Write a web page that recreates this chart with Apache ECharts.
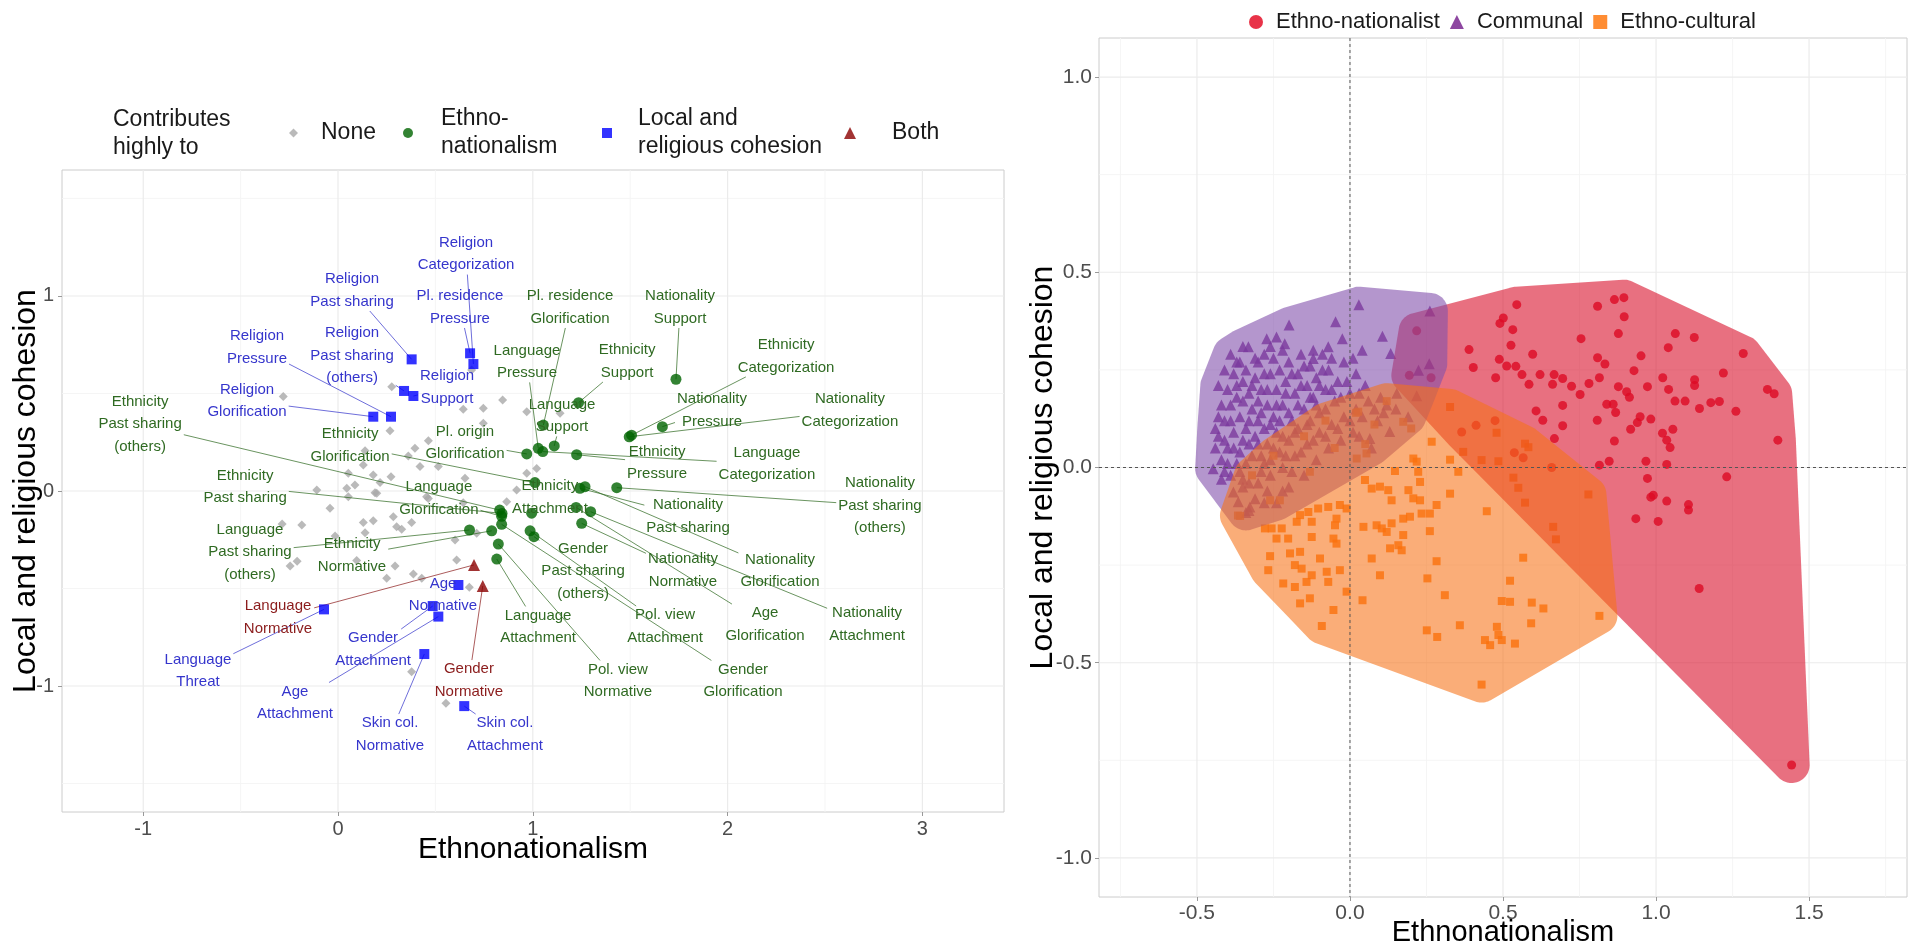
<!DOCTYPE html>
<html><head><meta charset="utf-8">
<script src="https://cdn.jsdelivr.net/npm/echarts@6/dist/echarts.min.js"></script>
<style>html,body{margin:0;padding:0;background:#fff}#c{width:1923px;height:948px}</style>
</head><body><div id="c"></div>
<script>
// ---------------- LEFT PANEL DATA ----------------
const leftXTicks = [-1, 0, 1, 2, 3];
const leftXMinor = [-0.5, 0.5, 1.5, 2.5];
const leftYTicks = [-1, 0, 1];
const leftYMinor = [-1.5, -0.5, 0.5, 1.5];

const nonePts = [[-0.281,0.484],[0.276,0.535],[0.845,0.467],[0.643,0.419],[0.746,0.424],[0.267,0.309],[0.464,0.258],[0.395,0.219],[0.361,0.179],[0.746,0.347],[0.139,0.207],[0.130,0.133],[0.421,0.125],[0.515,0.125],[0.969,0.091],[1.020,0.116],[0.053,0.091],[0.181,0.082],[0.272,0.073],[0.652,0.065],[0.216,0.043],[0.087,0.031],[0.045,0.014],[0.917,0.005],[-0.109,0.005],[0.190,-0.009],[0.455,-0.029],[0.053,-0.029],[0.866,-0.055],[0.643,-0.060],[-0.041,-0.089],[0.686,0.621],[0.969,0.407],[1.140,0.399],[0.199,-0.012],[-0.186,-0.174],[0.130,-0.162],[0.181,-0.152],[0.139,-0.214],[0.284,-0.132],[0.301,-0.183],[0.327,-0.196],[0.378,-0.162],[0.464,-0.038],[-0.015,-0.231],[0.601,-0.251],[0.712,-0.217],[-0.246,-0.385],[0.096,-0.357],[0.609,-0.354],[0.293,-0.385],[0.250,-0.448],[0.387,-0.426],[0.430,-0.448],[0.674,-0.494],[0.378,-0.927],[0.554,-1.089],[-0.287,-0.169],[-0.210,-0.360]];

const ethnoNames = ['Nationality\nSupport','Ethnicity\nCategorization','Nationality\nCategorization','Nationality\nPressure','Ethnicity\nPressure','Language\nCategorization','Ethnicity\nSupport','Pl. residence\nGlorification','Language\nPressure','Language\nSupport','Pl. origin\nGlorification','Nationality\nPast sharing\n(others)','Nationality\nPast sharing','Nationality\nGlorification','Age\nGlorification','Nationality\nAttachment','Nationality\nNormative','Gender\nGlorification','Pol. view\nNormative','Pol. view\nAttachment','Gender\nPast sharing\n(others)','Language\nAttachment','Ethnicity\nAttachment','Ethnicity\nGlorification','Ethnicity\nPast sharing\n(others)','Ethnicity\nPast sharing','Language\nGlorification','Language\nPast sharing\n(others)','Ethnicity\nNormative'];
const ethnoPts = [[1.735,0.573],[1.507,0.286],[1.495,0.278],[1.665,0.330],[1.225,0.186],[1.051,0.202],[1.235,0.453],[1.054,0.338],[1.028,0.219],[1.110,0.231],[0.969,0.190],[1.431,0.017],[1.242,0.014],[1.268,0.022],[1.222,-0.084],[1.297,-0.106],[1.251,-0.166],[0.840,-0.171],[0.823,-0.272],[0.986,-0.204],[1.006,-0.234],[0.815,-0.349],[0.994,-0.114],[1.011,0.043],[0.830,-0.098],[0.842,-0.115],[0.840,-0.130],[0.675,-0.200],[0.789,-0.204]];
const ethnoLabelPos = [[1.756,0.941],[2.300,0.690],[2.628,0.413],[1.920,0.413],[1.638,0.144],[2.202,0.138],[1.484,0.664],[1.191,0.941],[0.970,0.662],[1.150,0.385],[0.652,0.246],[2.782,-0.075],[1.797,-0.131],[2.269,-0.410],[2.192,-0.685],[2.716,-0.685],[1.771,-0.408],[2.079,-0.974],[1.437,-0.974],[1.679,-0.695],[1.258,-0.410],[1.027,-0.697],[1.088,-0.033],[0.062,0.233],[-1.016,0.342],[-0.477,0.021],[0.518,-0.038],[-0.452,-0.313],[0.072,-0.331]];

const localNames = ['Religion\nCategorization','Pl. residence\nPressure','Religion\nPast sharing','Religion\nPressure','Religion\nPast sharing\n(others)','Religion\nSupport','Religion\nGlorification','Age\nNormative','Gender\nAttachment','Language\nThreat','Age\nAttachment','Skin col.\nNormative','Skin col.\nAttachment'];
const localPts = [[0.695,0.651],[0.678,0.706],[0.378,0.675],[0.272,0.381],[0.339,0.513],[0.387,0.487],[0.181,0.381],[0.618,-0.482],[0.486,-0.590],[-0.072,-0.607],[0.515,-0.644],[0.443,-0.836],[0.648,-1.103]];
const localLabelPos = [[0.657,1.215],[0.626,0.941],[0.072,1.028],[-0.416,0.736],[0.072,0.694],[0.560,0.531],[-0.467,0.462],[0.539,-0.533],[0.180,-0.813],[-0.719,-0.923],[-0.221,-1.087],[0.267,-1.249],[0.857,-1.249]];

const bothNames = ['Language\nNormative','Gender\nNormative'];
const bothPts = [[0.698,-0.379],[0.743,-0.487]];
const bothLabelPos = [[-0.308,-0.649],[0.672,-0.972]];

// ---------------- RIGHT PANEL DATA ----------------
const rightXTicks = [-0.5, 0, 0.5, 1, 1.5];
const rightXMinor = [-0.75, -0.25, 0.25, 0.75, 1.25, 1.75];
const rightYTicks = [-1, -0.5, 0, 0.5, 1];
const rightYMinor = [-0.75, -0.25, 0.25, 0.75];

const ethnoNationalist = [[0.545,0.417],[0.809,0.413],[0.864,0.430],[0.895,0.435],[0.896,0.386],[0.877,0.343],[0.755,0.330],[0.501,0.383],[0.490,0.369],[0.532,0.353],[0.526,0.313],[0.389,0.302],[0.403,0.256],[0.488,0.277],[0.512,0.260],[0.542,0.259],[0.562,0.238],[0.597,0.290],[0.476,0.230],[0.621,0.238],[0.585,0.213],[0.667,0.238],[0.695,0.228],[0.662,0.213],[0.724,0.208],[0.752,0.187],[0.781,0.215],[0.815,0.230],[0.809,0.281],[0.833,0.265],[0.928,0.248],[0.951,0.286],[1.040,0.307],[1.063,0.343],[1.125,0.333],[1.285,0.292],[1.220,0.242],[1.126,0.225],[1.126,0.210],[1.022,0.230],[1.041,0.200],[0.972,0.207],[0.877,0.207],[0.904,0.194],[0.913,0.180],[0.839,0.162],[0.860,0.162],[0.868,0.141],[0.948,0.130],[0.939,0.115],[0.983,0.124],[0.917,0.098],[1.062,0.170],[1.095,0.170],[1.142,0.151],[1.179,0.166],[1.207,0.169],[1.261,0.144],[1.364,0.200],[1.386,0.189],[1.398,0.070],[1.021,0.088],[1.035,0.070],[1.046,0.051],[1.055,0.098],[0.864,0.068],[0.808,0.121],[0.695,0.159],[0.695,0.107],[0.608,0.145],[0.630,0.121],[0.668,0.074],[0.815,0.006],[0.847,0.016],[0.967,0.016],[1.035,0.008],[0.972,-0.028],[1.231,-0.024],[0.983,-0.076],[0.991,-0.071],[1.035,-0.086],[1.106,-0.095],[1.106,-0.109],[0.934,-0.131],[1.007,-0.138],[1.141,-0.310],[0.659,0.000],[0.265,0.230],[0.218,0.350],[0.194,0.236],[0.365,0.091],[0.412,0.108],[0.474,0.120],[0.537,0.038],[0.566,0.025],[1.443,-0.762]];

const communal = [[0.029,0.417],[0.261,0.401],[-0.047,0.373],[-0.199,0.365],[-0.025,0.330],[0.106,0.336],[0.133,0.292],[0.259,0.266],[0.224,0.249],[-0.272,0.330],[-0.240,0.334],[-0.213,0.317],[-0.332,0.309],[-0.071,0.309],[-0.120,0.279],[0.153,0.190],[0.218,0.184],[0.130,0.092],[0.065,0.074],[0.190,0.130],[-0.447,-0.003],[-0.365,-0.088],[-0.327,-0.101],[-0.381,-0.063],[-0.340,-0.115],
[-0.42,0.02],[-0.40,0.05],[-0.43,0.08],[-0.41,0.12],[-0.39,0.16],[-0.40,0.20],[-0.38,0.24],[-0.36,0.27],[-0.35,0.22],[-0.37,0.18],[-0.36,0.13],[-0.38,0.09],[-0.36,0.04],[-0.34,0.01],[-0.33,0.06],[-0.34,0.10],[-0.32,0.15],[-0.33,0.19],[-0.31,0.23],[-0.30,0.27],[-0.29,0.20],[-0.30,0.12],[-0.31,0.08],[-0.29,0.03],[-0.27,0.06],[-0.28,0.10],[-0.27,0.16],[-0.26,0.24],[-0.25,0.28],[-0.24,0.20],[-0.25,0.13],[-0.24,0.09],[-0.23,0.04],[-0.22,0.16],[-0.21,0.22],[-0.20,0.27],[-0.19,0.12],[-0.20,0.07],[-0.18,0.19],[-0.17,0.24],[-0.16,0.29],[-0.15,0.15],[-0.14,0.21],[-0.13,0.26],[-0.12,0.18],[-0.11,0.23],[-0.10,0.14],[-0.09,0.29],[-0.08,0.20],[-0.07,0.25],[-0.05,0.17],[-0.04,0.22],[-0.02,0.27],[0.00,0.19],[0.02,0.24],[0.04,0.30],[0.05,0.21],[-0.44,0.05],[-0.43,0.13],[-0.41,0.25],[-0.39,0.29],[-0.35,0.31],[-0.28,0.29],[-0.22,0.30],[-0.37,0.01],[-0.42,-0.03],[-0.39,-0.02],[-0.35,-0.03],
[-0.44,0.10],[-0.42,0.16],[-0.43,0.21],[-0.41,0.07],[-0.40,0.01],[-0.38,0.05],[-0.39,0.12],[-0.37,0.21],[-0.37,0.27],[-0.35,0.17],[-0.35,0.07],[-0.34,0.25],[-0.33,0.12],[-0.32,0.03],[-0.32,0.21],[-0.31,0.28],[-0.30,0.17],[-0.30,0.06],[-0.29,0.14],[-0.28,0.24],[-0.28,0.01],[-0.27,0.20],[-0.26,0.11],[-0.26,0.31],[-0.25,0.05],[-0.24,0.16],[-0.23,0.25],[-0.23,0.12],[-0.22,0.08],[-0.21,0.19],[-0.21,0.03],[-0.20,0.14],[-0.19,0.24],[-0.18,0.09],[-0.17,0.16],[-0.16,0.21],[-0.15,0.26],[-0.14,0.11],[-0.13,0.18],[-0.12,0.30],[-0.11,0.16],[-0.10,0.21],[-0.09,0.25],[-0.08,0.15],[-0.06,0.20],[-0.06,0.28],[-0.03,0.18],[-0.01,0.22],[0.01,0.28],[0.03,0.19],
[-0.35,-0.05],[-0.30,-0.04],[-0.26,-0.02],[-0.22,0.00],[-0.18,0.03],[-0.14,0.06],[-0.10,0.09],[-0.06,0.11],[-0.02,0.13],[0.02,0.15],[0.06,0.17],[0.10,0.18],[-0.31,-0.08],[-0.27,-0.06],[-0.20,-0.05],[-0.15,-0.02],[-0.11,0.02],[-0.07,0.05],[-0.03,0.07],[0.01,0.09],[0.09,0.12],[0.12,0.16],[-0.24,-0.09],[0.07,0.05],[-0.17,0.10],[-0.13,0.12],
[-0.41,-0.01],[-0.36,-0.01],[-0.33,-0.04],[-0.29,-0.01],[-0.26,0.02],[-0.19,-0.01],[-0.16,0.04],[-0.12,0.07],[-0.08,0.08],[-0.04,0.10],[0.00,0.12],[0.04,0.13],[0.08,0.15],[-0.28,-0.09],[-0.22,-0.06],[-0.33,-0.11],[0.03,0.08],[0.11,0.14],[0.15,0.15]];

const ethnoCultural = [[0.267,0.066],[0.207,0.023],[0.218,0.015],[0.327,0.020],[0.147,-0.009],[0.223,-0.011],[0.229,-0.037],[0.049,-0.032],[0.071,-0.054],[0.098,-0.049],[0.125,-0.058],[0.191,-0.058],[0.207,-0.079],[0.136,-0.084],[0.229,-0.084],[0.327,-0.067],[0.354,-0.011],[0.283,-0.096],[0.261,-0.118],[0.234,-0.118],[-0.033,-0.096],[-0.011,-0.105],[-0.071,-0.101],[-0.104,-0.105],[-0.136,-0.114],[-0.163,-0.122],[-0.174,-0.139],[-0.125,-0.139],[-0.044,-0.131],[-0.049,-0.148],[0.044,-0.152],[0.087,-0.148],[0.104,-0.156],[0.136,-0.143],[0.174,-0.131],[0.196,-0.126],[0.120,-0.165],[0.174,-0.173],[0.158,-0.199],[0.131,-0.207],[0.169,-0.212],[0.261,-0.163],[-0.256,-0.156],[-0.223,-0.156],[-0.278,-0.156],[-0.240,-0.182],[-0.202,-0.182],[-0.125,-0.178],[-0.054,-0.182],[-0.044,-0.195],[-0.196,-0.220],[-0.163,-0.216],[-0.261,-0.227],[-0.098,-0.233],[-0.180,-0.250],[-0.158,-0.259],[-0.267,-0.263],[-0.218,-0.297],[-0.180,-0.306],[-0.142,-0.293],[-0.125,-0.276],[-0.076,-0.267],[-0.033,-0.263],[-0.071,-0.293],[-0.011,-0.318],[-0.131,-0.335],[-0.163,-0.348],[-0.054,-0.365],[-0.092,-0.406],[0.071,-0.233],[0.098,-0.276],[0.041,-0.340],[0.283,-0.240],[0.253,-0.284],[0.310,-0.327],[0.523,-0.290],[0.566,-0.231],[0.447,-0.112],[0.496,-0.342],[0.523,-0.344],[0.594,-0.346],[0.632,-0.361],[0.592,-0.399],[0.815,-0.380],[0.359,-0.404],[0.251,-0.417],[0.285,-0.434],[0.480,-0.408],[0.485,-0.429],[0.496,-0.442],[0.441,-0.442],[0.458,-0.455],[0.539,-0.451],[0.430,-0.556],[0.370,0.040],[0.430,0.019],[0.485,0.016],[0.534,-0.026],[0.550,-0.052],[0.572,-0.090],[0.779,-0.069],[0.664,-0.152],[0.673,-0.184],[0.572,0.061],[0.583,0.052],[-0.359,-0.124],[-0.261,-0.084],[-0.229,-0.084],[0.054,0.036],[0.022,0.023],[-0.131,-0.011],[-0.366,-0.123],[0.327,0.155],[0.174,0.117],[0.027,0.143],[0.479,0.089],[-0.15,0.08],[-0.08,0.12],[0.02,0.14],[0.08,0.11],[-0.25,0.03],[-0.32,-0.02],[0.12,0.17],[0.20,0.10],[-0.05,0.05],[0.05,0.06]];

// ---------------- STYLE ----------------
const FONT = '"Liberation Sans", Arial, Helvetica, sans-serif';
const LABEL_SIZE = 15, LABEL_LH = 22.5;
const groupColors = { ethno: '#006400', local: '#0000ff', both: '#8b0000', none: '#a9a9a9' };
const textColors = ['#2f6a22', '#3535cc', '#8b1c1c'];
const hullColors = ['rgba(217,17,43,0.6)', 'rgba(130,80,172,0.6)', 'rgba(247,113,22,0.58)'];

const mctx = document.createElement('canvas').getContext('2d');
mctx.font = LABEL_SIZE + 'px "Liberation Sans", Arial, sans-serif';

const labelNames = [].concat(ethnoNames, localNames, bothNames);
const labelData = [].concat(
  ethnoPts.map((p, i) => [p[0], p[1], ethnoLabelPos[i][0], ethnoLabelPos[i][1], 0]),
  localPts.map((p, i) => [p[0], p[1], localLabelPos[i][0], localLabelPos[i][1], 1]),
  bothPts.map((p, i) => [p[0], p[1], bothLabelPos[i][0], bothLabelPos[i][1], 2])
);

function gridData(xt, xm, yt, ym) {
  return [].concat(xm.map(v => [v, 0, 0]), ym.map(v => [v, 1, 0]), xt.map(v => [v, 0, 1]), yt.map(v => [v, 1, 1]));
}
function renderGrid(params, api) {
  const cs = params.coordSys;
  const v = api.value(0), o = api.value(1), maj = api.value(2);
  const stroke = maj ? '#ebebeb' : '#f4f4f4';
  const lw = maj ? 1.2 : 0.9;
  if (o === 0) {
    const x = api.coord([v, 0])[0];
    return { type: 'line', shape: { x1: x, y1: cs.y, x2: x, y2: cs.y + cs.height }, style: { stroke, lineWidth: lw } };
  }
  const y = api.coord([0, v])[1];
  return { type: 'line', shape: { x1: cs.x, y1: y, x2: cs.x + cs.width, y2: y }, style: { stroke, lineWidth: lw } };
}

function boxOf(text) {
  const lines = text.split('\n');
  let w = 0;
  lines.forEach(l => { w = Math.max(w, mctx.measureText(l).width); });
  return { hw: w / 2 + 2, hh: lines.length * LABEL_LH / 2 - 2 };
}
function renderSegment(params, api) {
  const p = api.coord([api.value(0), api.value(1)]);
  const c = api.coord([api.value(2), api.value(3)]);
  const g = api.value(4);
  const b = boxOf(labelNames[params.dataIndex]);
  const dx = p[0] - c[0], dy = p[1] - c[1];
  const tx = dx === 0 ? Infinity : b.hw / Math.abs(dx);
  const ty = dy === 0 ? Infinity : b.hh / Math.abs(dy);
  const t = Math.min(tx, ty);
  if (t >= 1) return { type: 'group', children: [] };
  const sx = c[0] + dx * t, sy = c[1] + dy * t;
  return { type: 'line', shape: { x1: sx, y1: sy, x2: p[0], y2: p[1] }, style: { stroke: textColors[g], lineWidth: 0.8, opacity: 0.9 } };
}
function renderLabel(params, api) {
  const c = api.coord([api.value(2), api.value(3)]);
  const g = api.value(4);
  return { type: 'text', x: c[0], y: c[1], style: { text: labelNames[params.dataIndex], fill: textColors[g], fontSize: LABEL_SIZE, fontFamily: FONT, align: 'center', verticalAlign: 'middle', lineHeight: LABEL_LH } };
}

function convexHull(pts) {
  pts = pts.slice().sort((a, b) => a[0] - b[0] || a[1] - b[1]);
  const cross = (o, a, b) => (a[0] - o[0]) * (b[1] - o[1]) - (a[1] - o[1]) * (b[0] - o[0]);
  const lower = [];
  for (const p of pts) { while (lower.length >= 2 && cross(lower[lower.length - 2], lower[lower.length - 1], p) <= 0) lower.pop(); lower.push(p); }
  const upper = [];
  for (let i = pts.length - 1; i >= 0; i--) { const p = pts[i]; while (upper.length >= 2 && cross(upper[upper.length - 2], upper[upper.length - 1], p) <= 0) upper.pop(); upper.push(p); }
  upper.pop(); lower.pop();
  return lower.concat(upper);
}
function roundedOffset(h, d) {
  const n = h.length; let cx = 0, cy = 0;
  h.forEach(p => { cx += p[0]; cy += p[1]; }); cx /= n; cy /= n;
  const normals = [];
  for (let i = 0; i < n; i++) {
    const a = h[i], b = h[(i + 1) % n];
    const ex = b[0] - a[0], ey = b[1] - a[1];
    const L = Math.hypot(ex, ey) || 1;
    let nx = ey / L, ny = -ex / L;
    const mx = (a[0] + b[0]) / 2 - cx, my = (a[1] + b[1]) / 2 - cy;
    if (nx * mx + ny * my < 0) { nx = -nx; ny = -ny; }
    normals.push([nx, ny]);
  }
  const out = [];
  for (let i = 0; i < n; i++) {
    const v = h[i], n1 = normals[(i - 1 + n) % n], n2 = normals[i];
    const a1 = Math.atan2(n1[1], n1[0]);
    let da = Math.atan2(n2[1], n2[0]) - a1;
    while (da > Math.PI) da -= 2 * Math.PI;
    while (da < -Math.PI) da += 2 * Math.PI;
    const steps = Math.max(1, Math.ceil(Math.abs(da) / 0.08));
    for (let k = 0; k <= steps; k++) { const a = a1 + da * k / steps; out.push([v[0] + d * Math.cos(a), v[1] + d * Math.sin(a)]); }
  }
  return out;
}
const hullGroups = [ethnoNationalist, communal, ethnoCultural];
function renderHull(params, api) {
  const pts = hullGroups[params.dataIndex].map(p => api.coord(p));
  return { type: 'polygon', shape: { points: roundedOffset(convexHull(pts), 18) }, style: { fill: hullColors[params.dataIndex] } };
}
function renderZero(params, api) {
  const cs = params.coordSys;
  const o = api.coord([0, 0]);
  const st = { stroke: '#555', lineWidth: 1, lineDash: [3, 3] };
  return { type: 'group', children: [
    { type: 'line', shape: { x1: o[0], y1: cs.y, x2: o[0], y2: cs.y + cs.height }, style: st },
    { type: 'line', shape: { x1: cs.x, y1: o[1], x2: cs.x + cs.width, y2: o[1] }, style: st }
  ] };
}

function axisBase(extra) {
  return Object.assign({
    type: 'value', nameLocation: 'middle', nameMoveOverlap: false,
    axisLine: { show: false, onZero: false },
    splitLine: { show: false },
    nameTextStyle: { color: '#000', fontFamily: FONT }
  }, extra);
}
function legendText(pad) { return { fontSize: 23, color: '#1a1a1a', fontFamily: FONT, lineHeight: 28, padding: [0, 0, 0, pad] }; }
const multi = { 'None': 'None', 'Ethno-nationalism': 'Ethno-\nnationalism', 'Local and religious cohesion': 'Local and\nreligious cohesion', 'Both': 'Both' };

const chart = echarts.init(document.getElementById('c'), null, { renderer: 'canvas', width: 1923, height: 948 });
chart.setOption({
  animation: false,
  backgroundColor: '#ffffff',
  textStyle: { fontFamily: FONT },
  grid: [
    { left: 62, top: 170, width: 942, height: 642, show: true, borderColor: '#cccccc', borderWidth: 1, backgroundColor: 'transparent', outerBoundsMode: 'none' },
    { left: 1099, top: 38, width: 808, height: 859, show: true, borderColor: '#cccccc', borderWidth: 1, backgroundColor: 'transparent', outerBoundsMode: 'none' }
  ],
  xAxis: [
    axisBase({ gridIndex: 0, min: -1.417, max: 3.419, name: 'Ethnonationalism', nameGap: 23,
      nameTextStyle: { fontSize: 30, color: '#000', fontFamily: FONT },
      axisTick: { show: true, length: 4, lineStyle: { color: '#999' }, customValues: leftXTicks },
      axisLabel: { customValues: leftXTicks, fontSize: 20, color: '#4d4d4d', margin: 7, formatter: v => String(v) } }),
    axisBase({ gridIndex: 1, min: -0.82, max: 1.82, name: 'Ethnonationalism', nameGap: 21,
      nameTextStyle: { fontSize: 29, color: '#000', fontFamily: FONT },
      axisTick: { show: true, length: 4, lineStyle: { color: '#999' }, customValues: rightXTicks },
      axisLabel: { customValues: rightXTicks, fontSize: 21, color: '#4d4d4d', margin: 6, formatter: v => v.toFixed(1) } })
  ],
  yAxis: [
    axisBase({ gridIndex: 0, min: -1.646, max: 1.646, name: 'Local and religious cohesion', nameGap: 20,
      nameTextStyle: { fontSize: 32, color: '#000', fontFamily: FONT },
      axisTick: { show: true, length: 4, lineStyle: { color: '#999' }, customValues: leftYTicks },
      axisLabel: { customValues: leftYTicks, fontSize: 20, color: '#4d4d4d', margin: 8, formatter: v => String(v) } }),
    axisBase({ gridIndex: 1, min: -1.1, max: 1.1, name: 'Local and religious cohesion', nameGap: 40,
      nameTextStyle: { fontSize: 32, color: '#000', fontFamily: FONT },
      axisTick: { show: true, length: 4, lineStyle: { color: '#999' }, customValues: rightYTicks },
      axisLabel: { customValues: rightYTicks, fontSize: 21, color: '#4d4d4d', margin: 7, formatter: v => v.toFixed(1) } })
  ],
  graphic: [
    { type: 'text', left: 113, top: 106, style: { text: 'Contributes\nhighly to', fontSize: 23, lineHeight: 28, fill: '#1a1a1a', fontFamily: FONT } }
  ],
  legend: [
    { data: [{ name: 'None', icon: 'diamond' }], left: 289, top: 119, padding: 0, itemWidth: 9, itemHeight: 9, selectedMode: false, textStyle: legendText(18), formatter: n => multi[n] },
    { data: [{ name: 'Ethno-nationalism', icon: 'circle' }], left: 403, top: 105, padding: 0, itemWidth: 10, itemHeight: 10, selectedMode: false, textStyle: legendText(23), formatter: n => multi[n] },
    { data: [{ name: 'Local and religious cohesion', icon: 'rect' }], left: 602, top: 105, padding: 0, itemWidth: 10, itemHeight: 10, selectedMode: false, textStyle: legendText(21), formatter: n => multi[n] },
    { data: [{ name: 'Both', icon: 'triangle' }], left: 844, top: 119, padding: 0, itemWidth: 12, itemHeight: 12, selectedMode: false, textStyle: legendText(31), formatter: n => multi[n] },
    { data: [{ name: 'Ethno-nationalist', icon: 'circle' }, { name: 'Communal', icon: 'triangle' }, { name: 'Ethno-cultural', icon: 'rect' }],
      left: 1249, top: 9, padding: 0, itemGap: 10, itemWidth: 14, itemHeight: 14, selectedMode: false,
      textStyle: { fontSize: 22, color: '#1a1a1a', fontFamily: FONT, lineHeight: 26, padding: [0, 0, 0, 8] } }
  ],
  series: [
    { type: 'custom', name: 'gridL', xAxisIndex: 0, yAxisIndex: 0, z: 1, silent: true, renderItem: renderGrid, data: gridData(leftXTicks, leftXMinor, leftYTicks, leftYMinor) },
    { type: 'scatter', name: 'None', xAxisIndex: 0, yAxisIndex: 0, z: 2, silent: true, symbol: 'diamond', symbolSize: 9, itemStyle: { color: groupColors.none }, data: nonePts },
    { type: 'custom', name: 'segments', xAxisIndex: 0, yAxisIndex: 0, z: 3, silent: true, renderItem: renderSegment, data: labelData },
    { type: 'scatter', name: 'Ethno-nationalism', xAxisIndex: 0, yAxisIndex: 0, z: 4, silent: true, symbol: 'circle', symbolSize: 11, itemStyle: { color: groupColors.ethno }, data: ethnoPts },
    { type: 'scatter', name: 'Local and religious cohesion', xAxisIndex: 0, yAxisIndex: 0, z: 4, silent: true, symbol: 'rect', symbolSize: 10, itemStyle: { color: groupColors.local }, data: localPts },
    { type: 'scatter', name: 'Both', xAxisIndex: 0, yAxisIndex: 0, z: 4, silent: true, symbol: 'triangle', symbolSize: 12, itemStyle: { color: groupColors.both }, data: bothPts },
    { type: 'custom', name: 'labels', xAxisIndex: 0, yAxisIndex: 0, z: 5, silent: true, renderItem: renderLabel, data: labelData },
    { type: 'custom', name: 'gridR', xAxisIndex: 1, yAxisIndex: 1, z: 1, silent: true, renderItem: renderGrid, data: gridData(rightXTicks, rightXMinor, rightYTicks, rightYMinor) },
    { type: 'scatter', name: 'Ethno-nationalist', xAxisIndex: 1, yAxisIndex: 1, z: 2, silent: true, symbol: 'circle', symbolSize: 9, itemStyle: { color: '#e2001a' }, data: ethnoNationalist },
    { type: 'scatter', name: 'Communal', xAxisIndex: 1, yAxisIndex: 1, z: 2, silent: true, symbol: 'triangle', symbolSize: 11, itemStyle: { color: '#72198a' }, data: communal },
    { type: 'scatter', name: 'Ethno-cultural', xAxisIndex: 1, yAxisIndex: 1, z: 2, silent: true, symbol: 'rect', symbolSize: 8, itemStyle: { color: '#ff7000' }, data: ethnoCultural },
    { type: 'custom', name: 'hulls', xAxisIndex: 1, yAxisIndex: 1, z: 3, silent: true, renderItem: renderHull, data: [[0, 0], [0, 0], [0, 0]] },
    { type: 'custom', name: 'zero', xAxisIndex: 1, yAxisIndex: 1, z: 4, silent: true, renderItem: renderZero, data: [[0, 0]] }
  ]
});
</script></body></html>
